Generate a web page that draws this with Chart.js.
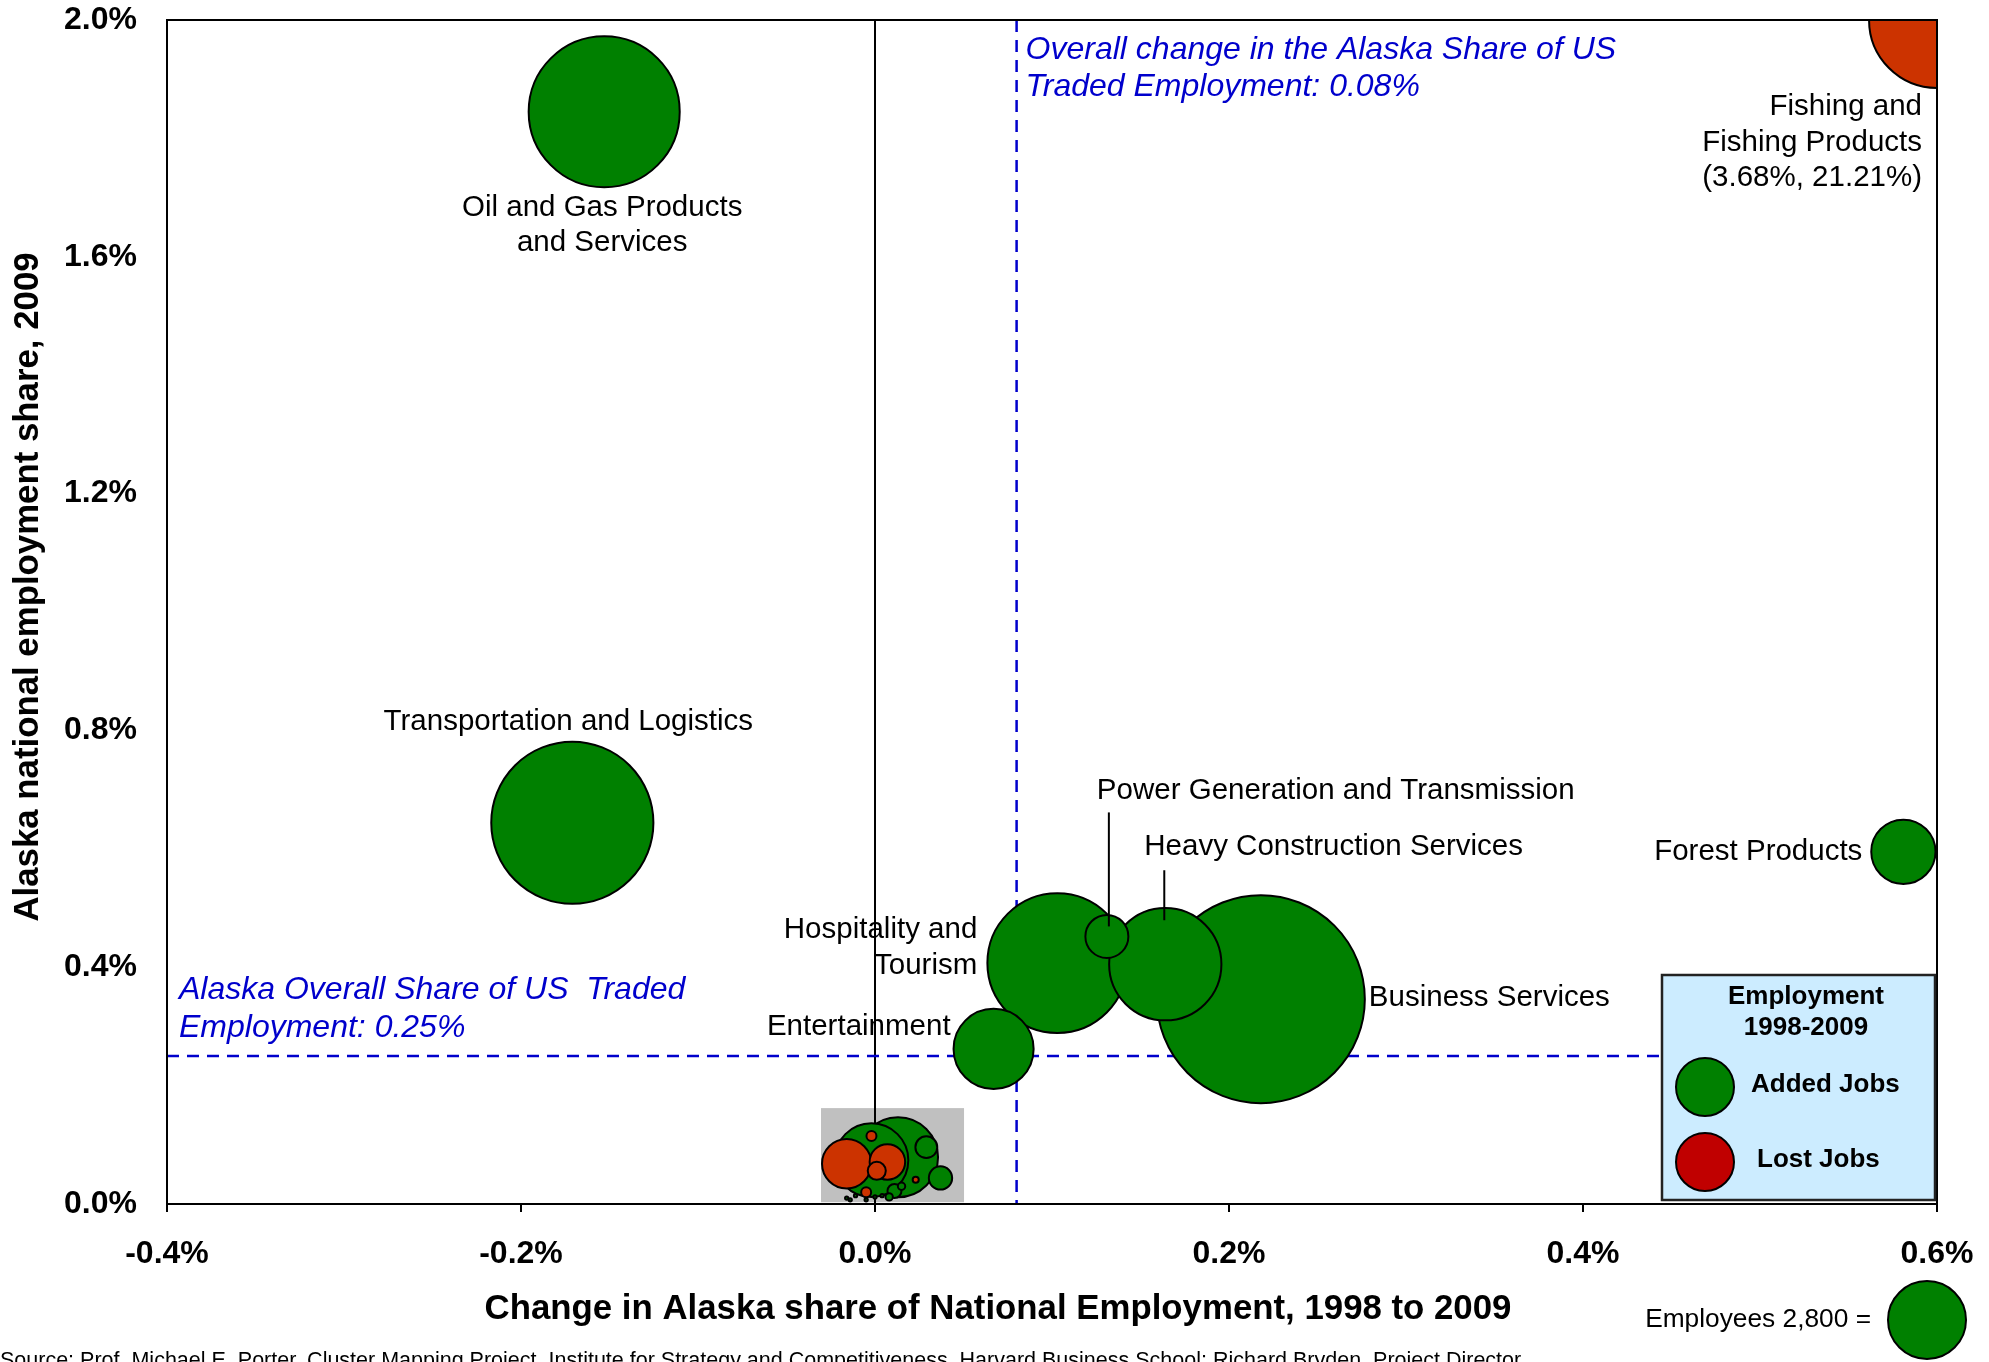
<!DOCTYPE html>
<html>
<head>
<meta charset="utf-8">
<title>Alaska traded clusters 1998-2009</title>
<script src="https://cdn.jsdelivr.net/npm/chart.js@4/dist/chart.umd.min.js"></script>
<style>
    html, body { margin: 0; padding: 0; background: #fff; }
    canvas { display: block; }
</style>
</head>
<body>
<canvas id="myChart" width="1989" height="1362"></canvas>
<script>
// cluster data, values in percent
const clusters = [
    'Business Services', 'Transportation and Logistics', 'Oil and Gas Products and Services',
    'Hospitality and Tourism', 'Fishing and Fishing Products', 'Heavy Construction Services',
    'Entertainment', '', '', 'Forest Products', '', 'Power Generation and Transmission',
    '', '', '', '', '', '', '', '', '', '', '', '', '', '', '', ''
];
const changeShare = [
    0.218, -0.171, -0.153, 0.103, 0.6, 0.164, 0.067, 0.013, -0.002, 0.581, -0.016, 0.131,
    0.007, 0.037, 0.029, 0.001, 0.011, -0.002, -0.005, 0.015, 0.023, 0.008,
    -0.016, -0.014, -0.011, -0.005, 0.000, 0.004
];
const share2009 = [
    0.346, 0.644, 1.845, 0.407, 2.0, 0.405, 0.262, 0.079, 0.074, 0.595, 0.068, 0.452,
    0.071, 0.044, 0.096, 0.056, 0.022, 0.115, 0.020, 0.030, 0.041, 0.012,
    0.010, 0.007, 0.014, 0.007, 0.012, 0.014
];
const employees = [
    19900, 12100, 10500, 9000, 8500, 5800, 2950, 2950, 2500, 1900, 1120, 850,
    580, 250, 220, 150, 90, 46, 46, 25, 17, 25,
    5, 5, 5, 5, 5, 5
];
const jobTrend = [
    'added', 'added', 'added', 'added', 'lost', 'added', 'added', 'added', 'added', 'added', 'lost', 'added',
    'lost', 'added', 'added', 'lost', 'added', 'lost', 'lost', 'added', 'lost', 'added',
    'added', 'added', 'added', 'added', 'added', 'added'
];
// fishing is off the chart, real values
const fishingActual = ['3.68%', '21.21%'];

const xTicks = [-0.4, -0.2, 0.0, 0.2, 0.4, 0.6];
const yTicks = [0.0, 0.4, 0.8, 1.2, 1.6, 2.0];
const avgShare = 0.25;    // Alaska overall share of US traded employment
const avgChange = 0.08;   // overall change in that share
const zoomBox = [-0.0305, 0.0503, 0.003, 0.162];  // xmin, xmax, ymin, ymax
const keyEmployees = 2800;

const green = '#008000';
const red = '#CC3300';
const blue = '#0000CC';
const FONT = "'Liberation Sans', Arial, sans-serif";
const keyRadius = 39;

function bubbleRadius(emp) {
    return keyRadius * Math.sqrt(emp / keyEmployees);
}

// label positions relative to bubble center (px)
const labelNotes = [
    { name: 'Oil and Gas Products and Services', lines: ['Oil and Gas Products', 'and Services'], dx: -2, dy: 96, align: 'center' },
    { name: 'Transportation and Logistics', lines: ['Transportation and Logistics'], dx: -4, dy: -101, align: 'center' },
    { name: 'Fishing and Fishing Products', lines: ['Fishing and', 'Fishing Products', '(' + fishingActual.join(', ') + ')'], dx: -15, dy: 87, align: 'right' },
    { name: 'Power Generation and Transmission', lines: ['Power Generation and Transmission'], dx: -10, dy: -146, align: 'left', lead: [2, -124, -10] },
    { name: 'Heavy Construction Services', lines: ['Heavy Construction Services'], dx: -21, dy: -117, align: 'left', lead: [-1, -94, -44] },
    { name: 'Forest Products', lines: ['Forest Products'], dx: -41, dy: 0, align: 'right' },
    { name: 'Hospitality and Tourism', lines: ['Hospitality and', 'Tourism'], dx: -80, dy: -33, align: 'right' },
    { name: 'Entertainment', lines: ['Entertainment'], dx: -43, dy: -22, align: 'right' },
    { name: 'Business Services', lines: ['Business Services'], dx: 108, dy: -1, align: 'left' }
];

// big bubbles first so small ones sit on top
const order = clusters.map((c, i) => i).sort((a, b) => employees[b] - employees[a]);
const points = order.map(i => ({ x: changeShare[i], y: share2009[i], r: bubbleRadius(employees[i]) }));
const fills = order.map(i => jobTrend[i] === 'added' ? green : red);

const isZero = v => Math.abs(v) < 1e-9;
const pct = v => (Math.round(v * 10) / 10).toFixed(1) + '%';

const extras = {
    id: 'extras',
    beforeDraw(chart) {
        const { ctx, scales: { x, y } } = chart;
        ctx.save();
        ctx.fillStyle = '#C0C0C0';
        const x0 = x.getPixelForValue(zoomBox[0]), x1 = x.getPixelForValue(zoomBox[1]);
        const y0 = y.getPixelForValue(zoomBox[3]), y1 = y.getPixelForValue(zoomBox[2]);
        ctx.fillRect(x0, y0, x1 - x0, y1 - y0);
        ctx.restore();
    },
    beforeDatasetsDraw(chart) {
        const { ctx, chartArea: a, scales: { x, y } } = chart;
        ctx.save();
        ctx.strokeStyle = blue;
        ctx.lineWidth = 2.5;
        ctx.setLineDash([12, 8]);
        const hy = y.getPixelForValue(avgShare);
        ctx.beginPath();
        ctx.moveTo(a.left, hy);
        ctx.lineTo(a.right, hy);
        ctx.stroke();
        const vx = x.getPixelForValue(avgChange);
        ctx.beginPath();
        ctx.moveTo(vx, a.top);
        ctx.lineTo(vx, a.bottom);
        ctx.stroke();
        ctx.setLineDash([]);

        ctx.fillStyle = blue;
        ctx.font = 'italic 32px ' + FONT;
        ctx.textBaseline = 'middle';
        ctx.textAlign = 'left';
        ctx.fillText('Overall change in the Alaska Share of US', vx + 9, a.top + 30);
        ctx.fillText('Traded Employment: ' + avgChange.toFixed(2) + '%', vx + 9, a.top + 67);
        ctx.fillText('Alaska Overall Share of US  Traded', a.left + 12, hy - 66);
        ctx.fillText('Employment: ' + avgShare.toFixed(2) + '%', a.left + 12, hy - 28);
        ctx.restore();
    },
    afterDatasetsDraw(chart) {
        const { ctx, chartArea: a, scales: { x, y } } = chart;
        ctx.save();
        // frame
        ctx.strokeStyle = '#000';
        ctx.lineWidth = 2;
        ctx.strokeRect(a.left, a.top, a.right - a.left, a.bottom - a.top);

        // cluster labels
        ctx.fillStyle = '#000';
        ctx.font = '29.5px ' + FONT;
        ctx.textBaseline = 'middle';
        labelNotes.forEach(n => {
            const i = clusters.indexOf(n.name);
            const px = x.getPixelForValue(changeShare[i]);
            const py = y.getPixelForValue(share2009[i]);
            ctx.textAlign = n.align;
            n.lines.forEach((t, k) => ctx.fillText(t, px + n.dx, py + n.dy + k * 35.5));
            if (n.lead) {
                ctx.lineWidth = 2;
                ctx.beginPath();
                ctx.moveTo(px + n.lead[0], py + n.lead[1]);
                ctx.lineTo(px + n.lead[0], py + n.lead[2]);
                ctx.stroke();
            }
        });

        // legend box
        const bx = a.right - 275, by = a.bottom - 229, bw = 273, bh = 225;
        ctx.fillStyle = '#CCECFF';
        ctx.fillRect(bx, by, bw, bh);
        ctx.lineWidth = 2.5;
        ctx.strokeStyle = '#222';
        ctx.strokeRect(bx, by, bw, bh);
        ctx.fillStyle = '#000';
        ctx.font = 'bold 26px ' + FONT;
        ctx.textAlign = 'center';
        ctx.fillText('Employment', bx + 144, by + 22);
        ctx.fillText('1998-2009', bx + 144, by + 53);
        const keys = [['Added Jobs', green, 112, 89], ['Lost Jobs', '#C00000', 187, 95]];
        keys.forEach(k => {
            ctx.beginPath();
            ctx.arc(bx + 43, by + k[2], 29, 0, Math.PI * 2);
            ctx.fillStyle = k[1];
            ctx.fill();
            ctx.lineWidth = 2;
            ctx.strokeStyle = '#000';
            ctx.stroke();
            ctx.fillStyle = '#000';
            ctx.textAlign = 'left';
            ctx.fillText(k[0], bx + k[3], by + k[2] - 2);
        });

        // size key
        const kr = bubbleRadius(keyEmployees);
        ctx.beginPath();
        ctx.arc(a.right - 10, 1320, kr, 0, Math.PI * 2);
        ctx.fillStyle = green;
        ctx.fill();
        ctx.lineWidth = 2;
        ctx.stroke();
        ctx.fillStyle = '#000';
        ctx.font = '26.3px ' + FONT;
        ctx.textAlign = 'right';
        ctx.fillText('Employees ' + keyEmployees.toLocaleString('en-US') + ' =', a.right - 66, 1320);

        // axis titles
        ctx.font = 'bold 34.8px ' + FONT;
        ctx.textAlign = 'center';
        ctx.fillText('Change in Alaska share of National Employment, 1998 to 2009', 998, 1309);
        ctx.save();
        ctx.translate(28, 587);
        ctx.rotate(-Math.PI / 2);
        ctx.fillText('Alaska national employment share, 2009', 0, 0);
        ctx.restore();

        // source, cut off at the bottom as in the original
        ctx.font = '21.5px ' + FONT;
        ctx.textAlign = 'left';
        ctx.textBaseline = 'top';
        ctx.fillText('Source: Prof. Michael E. Porter, Cluster Mapping Project, Institute for Strategy and Competitiveness, Harvard Business School; Richard Bryden, Project Director', 0, 1350);
        ctx.restore();
    }
};

let chart;
function createChart() {
    const ctx = document.getElementById('myChart').getContext('2d');
    Chart.defaults.font.family = FONT;
    chart = new Chart(ctx, {
        type: 'bubble',
        data: {
            datasets: [{
                label: 'Clusters',
                data: points,
                backgroundColor: fills,
                borderColor: '#000',
                borderWidth: 2,
                clip: 0
            }]
        },
        options: {
            responsive: false,
            animation: false,
            events: [],
            layout: { autoPadding: false, padding: { left: 0, top: 20, right: 52, bottom: 0 } },
            plugins: {
                legend: { display: false },
                tooltip: { enabled: false }
            },
            scales: {
                x: {
                    type: 'linear',
                    min: xTicks[0],
                    max: xTicks[xTicks.length - 1],
                    afterBuildTicks: s => { s.ticks = xTicks.map(v => ({ value: v })); },
                    afterFit: s => { s.height = 158; s.paddingLeft = 0; s.paddingRight = 0; },
                    ticks: {
                        callback: v => pct(v),
                        color: '#000',
                        font: { size: 32, weight: 'bold' },
                        padding: 23,
                        maxRotation: 0
                    },
                    grid: {
                        color: c => (c.tick && isZero(c.tick.value)) ? '#000' : 'rgba(0,0,0,0)',
                        lineWidth: 2,
                        tickColor: '#000',
                        tickLength: 8
                    },
                    border: { color: '#000', width: 2 }
                },
                y: {
                    type: 'linear',
                    min: yTicks[0],
                    max: yTicks[yTicks.length - 1],
                    afterBuildTicks: s => { s.ticks = yTicks.map(v => ({ value: v })); },
                    afterFit: s => { s.width = 167; s.paddingTop = 0; s.paddingBottom = 0; },
                    ticks: {
                        callback: v => pct(v),
                        color: '#000',
                        font: { size: 32, weight: 'bold' },
                        padding: 22
                    },
                    grid: { display: false },
                    border: { color: '#000', width: 2 }
                }
            }
        },
        plugins: [extras]
    });
}

document.addEventListener('DOMContentLoaded', function () {
    createChart();
});
</script>
</body>
</html>
